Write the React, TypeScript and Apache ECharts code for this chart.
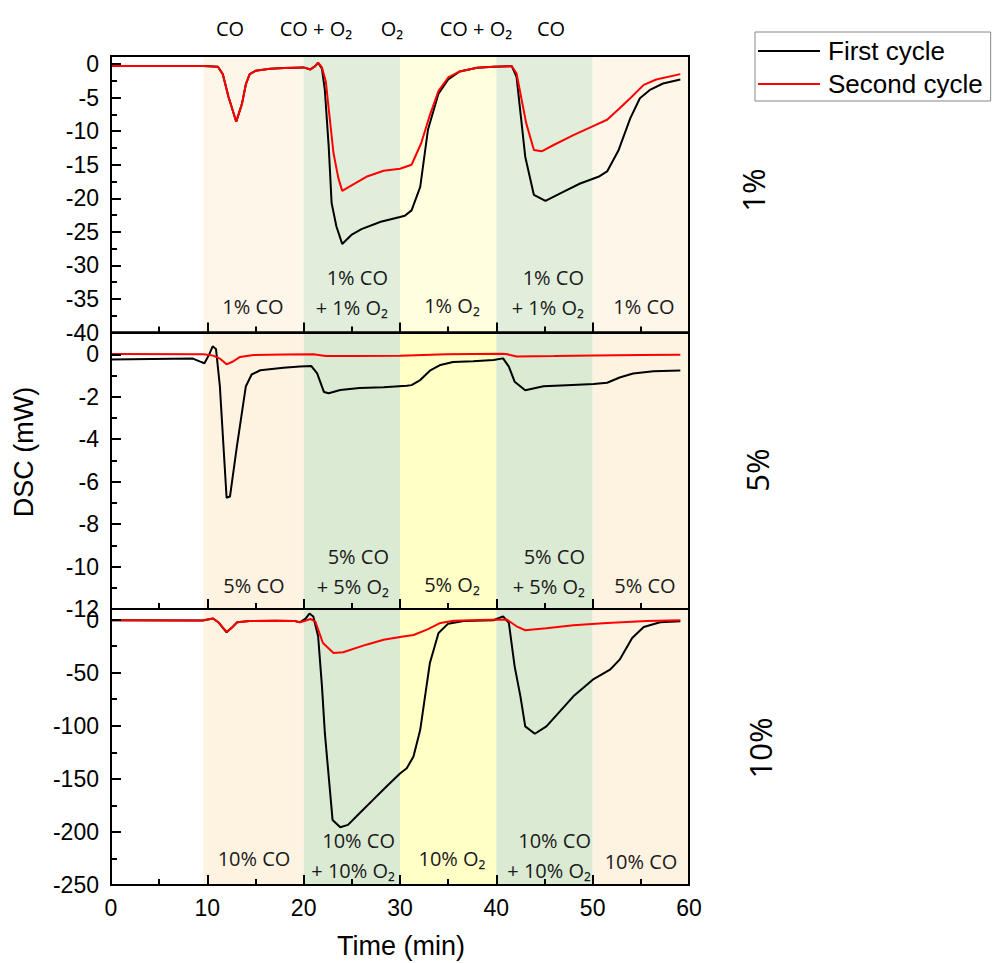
import React, { useEffect, useRef } from "react";
import * as echarts from "echarts";

// ---------- DATA ----------
const xTicks = [0, 10, 20, 30, 40, 50, 60];
const panelNames = ["1%", "5%", "10%"];
const topLabels = ["CO", "CO + O₂", "O₂", "CO + O₂", "CO"];
const bandRanges: [number, number][] = [[9.6, 20], [20, 30], [30, 40], [40, 50], [50, 60]];
const bandGas = ["CO", "MIX", "O2", "MIX", "CO"];
const regionLabels1 = ["1% CO", "1% CO\n+ 1% O₂", "1% O₂", "1% CO\n+ 1% O₂", "1% CO"];
const regionLabels5 = ["5% CO", "5% CO\n+ 5% O₂", "5% O₂", "5% CO\n+ 5% O₂", "5% CO"];
const regionLabels10 = ["10% CO", "10% CO\n+ 10% O₂", "10% O₂", "10% CO\n+ 10% O₂", "10% CO"];
const yMin = [-40, -12, -250];
const yMax = [1.2, 1.03, 10];
const yInterval = [5, 2, 50];

// 1% panel
const first1: [number, number][] = [
  [0, -0.3], [9.6, -0.3], [11.1, -0.4], [11.6, -1.5], [12.2, -4.9], [13.0, -8.6], [13.6, -5.9], [14.0, -3.0],
  [14.4, -1.5], [15.0, -1.0], [16.5, -0.7], [18, -0.6], [20.0, -0.5], [20.7, -0.8], [21.2, -0.3], [21.5, 0.2],
  [21.9, -0.7], [22.2, -3.9], [22.6, -12.3], [22.9, -20.7], [23.4, -24.2], [24.0, -26.8], [25.0, -25.4],
  [26.0, -24.6], [28.0, -23.5], [30.0, -22.8], [30.5, -22.6], [31.2, -21.8], [32.1, -18.3], [32.9, -9.8],
  [34.0, -4.4], [35.0, -2.3], [36.2, -1.1], [38.0, -0.55], [39.7, -0.4], [41.6, -0.3], [42.1, -1.9],
  [43.0, -13.8], [43.9, -19.5], [45.1, -20.4], [47.0, -19.0], [48.7, -17.8], [50.6, -16.8], [51.5, -16.0],
  [52.7, -12.8], [53.9, -8.1], [54.9, -5.1], [56.0, -3.8], [57.3, -2.9], [59.1, -2.3],
];
const second1: [number, number][] = [
  [0, -0.3], [9.6, -0.3], [11.1, -0.4], [11.6, -1.5], [12.2, -4.9], [13.0, -8.6], [13.6, -5.9], [14.0, -3.0],
  [14.4, -1.5], [15.0, -1.0], [16.5, -0.7], [18, -0.6], [20.0, -0.5], [20.7, -0.8], [21.2, -0.3], [21.5, 0.2],
  [21.9, -0.5], [22.3, -2.6], [22.7, -8], [23.1, -13.3], [23.6, -17], [24.0, -18.9], [25.2, -17.9],
  [26.5, -16.8], [28.3, -15.9], [30.0, -15.6], [31.2, -15.0], [32.2, -11.8], [33.1, -7.6], [34.0, -4.0],
  [35.0, -2.0], [36.2, -1.1], [38.0, -0.55], [39.7, -0.4], [41.6, -0.3], [42.1, -1.4], [43.1, -8.8],
  [43.9, -12.8], [44.7, -13.0], [45.9, -12.1], [48.0, -10.6], [50.1, -9.2], [51.5, -8.3], [52.8, -6.6],
  [53.9, -5.1], [55.3, -3.1], [56.6, -2.3], [59.1, -1.5],
];

// 5% panel
const first5: [number, number][] = [
  [0, -0.24], [8.5, -0.2], [9.2, -0.33], [9.7, -0.42], [10.2, 0.0], [10.55, 0.38], [10.9, 0.25], [11.3, -1.5],
  [12.0, -6.76], [12.35, -6.7], [13.05, -4.4], [14.0, -1.5], [14.6, -0.95], [15.5, -0.75], [17.9, -0.63],
  [19.6, -0.57], [20.8, -0.55], [21.4, -0.9], [22.1, -1.77], [22.6, -1.83], [23.8, -1.68], [25.8, -1.58],
  [28.3, -1.55], [30.7, -1.48], [31.2, -1.45], [32.1, -1.21], [33.1, -0.77], [34.2, -0.5], [35.5, -0.36],
  [37.6, -0.33], [39.7, -0.27], [40.7, -0.19], [41.3, -0.58], [41.9, -1.29], [43.0, -1.69], [44.9, -1.5],
  [47.3, -1.45], [50.1, -1.4], [51.5, -1.34], [52.8, -1.09], [54.2, -0.9], [56.3, -0.8], [59.1, -0.76],
];
const second5: [number, number][] = [
  [0, 0.02], [9.6, 0.0], [10.6, -0.06], [11.3, -0.2], [12.0, -0.47], [12.6, -0.35], [13.4, -0.12],
  [14.8, -0.03], [18, -0.01], [21.0, 0.0], [22.3, -0.08], [25, -0.08], [30, -0.06], [34.8, 0.0], [40.4, 0.03],
  [41.0, 0.02], [42.1, -0.1], [46, -0.08], [50.1, -0.05], [55, -0.03], [59.1, -0.02],
];

// 10% panel
const first10: [number, number][] = [
  [0, -0.5], [9.5, -0.8], [10.6, 1], [11.2, -3], [12.0, -12], [12.5, -8], [13.1, -2.5], [14.4, -1.3], [17, -1],
  [19.0, -1.2], [19.6, -2.5], [20.2, 1], [20.6, 5.7], [21.0, 3], [21.5, -15.7], [21.9, -62.9], [22.2, -107],
  [22.6, -147.8], [23.0, -188.7], [23.8, -195.6], [24.6, -193.4], [25.8, -182.4], [27.2, -169.8],
  [28.6, -157.2], [30.0, -145], [30.7, -140], [31.4, -129], [32.1, -103.8], [32.6, -72.3], [33.1, -40.9],
  [34.0, -12.6], [35.0, -3.8], [36.6, -1.3], [39.7, -0.6], [40.7, 3.1], [41.3, -3.1], [41.9, -44],
  [42.5, -72.3], [43.0, -100.6], [44.0, -107.5], [45.2, -100.6], [46.6, -86.5], [48.0, -72.3], [50.1, -56],
  [51.8, -47.2], [52.8, -37.7], [54.1, -17.3], [55.3, -6.9], [57.0, -2.5], [59.1, -1.6],
];
const second10: [number, number][] = [
  [0, -0.5], [9.5, -0.8], [10.6, 1], [11.2, -3], [12.0, -11.6], [12.5, -8], [13.1, -2.5], [14.4, -1.3], [17, -1],
  [19.0, -1.2], [19.6, -2.5], [20.2, -1], [20.7, 0.6], [21.2, -1.6], [22.0, -22], [23.1, -31.4], [24.1, -30.8],
  [26.5, -23.6], [28.3, -18.9], [30, -16.4], [31.4, -14.5], [32.8, -9.4], [34.2, -3.1], [35.6, -1.0],
  [38.3, -0.3], [41.1, 0], [42.1, -6.3], [43.0, -10], [45.2, -8.2], [48.0, -5.3], [51.5, -3.1], [55.6, -1.3],
  [59.1, -0.6],
];

const firstSeries = [first1, first5, first10];
const secondSeries = [second1, second5, second10];
const regionLabels = [regionLabels1, regionLabels5, regionLabels10];

// ---------- LAYOUT / STYLE ----------
const GRID_LEFT = 111;
const GRID_WIDTH = 578;
const gridTops = [56, 332.5, 609];
const gridHeights = [276.5, 276.5, 276];
const bandColors = [
  { CO: "#fef6e8", MIX: "#e1eedb", O2: "#ffffe0" },
  { CO: "#fdf3e0", MIX: "#dbead3", O2: "#ffffc6" },
  { CO: "#fdf3e0", MIX: "#dbead3", O2: "#ffffc6" },
];
const regionPos = [
  [[253, 306, "center"], [388, 292, "right"], [452, 305, "center"], [584, 292, "right"], [644, 306, "center"]],
  [[254, 585, "center"], [389, 571, "right"], [452, 584, "center"], [585, 571, "right"], [645, 585, "center"]],
  [[254, 858, "center"], [395, 855, "right"], [452, 858, "center"], [591, 855, "right"], [641, 861, "center"]],
];
const topLabelPos = [230, 316, 392, 476, 551];
const panelNamePos = [[753, 190], [757, 470], [760, 748]];

const ARIAL = "Liberation Sans, Arial, sans-serif";
const CAL = "Open Sans, Noto Sans, sans-serif";

export default function App() {
  const ref = useRef<HTMLDivElement>(null);
  useEffect(() => {
    if (!ref.current) return;
    const chart = echarts.init(ref.current, undefined, { renderer: "svg" });

    const grids = [0, 1, 2].map((i) => ({
      left: GRID_LEFT,
      top: gridTops[i],
      width: GRID_WIDTH,
      height: gridHeights[i],
      show: true,
      borderColor: "#000",
      borderWidth: 2,
      backgroundColor: "transparent",
      z: 10,
    }));

    const xAxes = [0, 1, 2].map((i) => ({
      type: "value",
      gridIndex: i,
      min: xTicks[0],
      max: xTicks[xTicks.length - 1],
      interval: 10,
      z: 10,
      axisLine: { show: true, onZero: false, lineStyle: { color: "#000", width: 2 } },
      axisTick: { show: true, inside: true, length: 10, lineStyle: { color: "#000", width: 2 } },
      minorTick: { show: true, splitNumber: 2, length: 6, lineStyle: { color: "#000", width: 2 } },
      splitLine: { show: false },
      minorSplitLine: { show: false },
      axisLabel: {
        show: i === 2,
        fontSize: 23,
        fontFamily: ARIAL,
        color: "#000",
        margin: 11,
      },
    }));

    const yAxes = [0, 1, 2].map((i) => ({
      type: "value",
      gridIndex: i,
      min: yMin[i],
      max: yMax[i],
      interval: yInterval[i],
      z: 10,
      axisLine: { show: true, onZero: false, lineStyle: { color: "#000", width: 2 } },
      axisTick: { show: true, inside: true, length: 10, lineStyle: { color: "#000", width: 2 } },
      minorTick: { show: true, splitNumber: 2, length: 6, lineStyle: { color: "#000", width: 2 } },
      splitLine: { show: false },
      minorSplitLine: { show: false },
      axisLabel: {
        fontSize: 23,
        fontFamily: ARIAL,
        color: "#000",
        margin: 12,
        formatter: (v: number) => {
          const r = v / yInterval[i];
          return Math.abs(r - Math.round(r)) < 1e-6 ? String(Math.round(v)) : "";
        },
      },
    }));

    const series: any[] = [];
    [0, 1, 2].forEach((i) => {
      series.push({
        name: "First cycle",
        type: "line",
        xAxisIndex: i,
        yAxisIndex: i,
        data: firstSeries[i],
        symbol: "none",
        color: "#000000",
        lineStyle: { color: "#000000", width: 2 },
        z: 3,
        markArea: {
          silent: true,
          z: 1,
          data: bandRanges.map((r, k) => [
            { xAxis: r[0], itemStyle: { color: (bandColors[i] as any)[bandGas[k]] } },
            { xAxis: r[1] },
          ]),
        },
      });
      series.push({
        name: "Second cycle",
        type: "line",
        xAxisIndex: i,
        yAxisIndex: i,
        data: secondSeries[i],
        symbol: "none",
        color: "#ff0000",
        lineStyle: { color: "#ff0000", width: 2 },
        z: 4,
      });
    });

    const graphics: any[] = [];
    topLabels.forEach((t, k) => {
      graphics.push({
        type: "text",
        x: topLabelPos[k],
        y: 28,
        style: { text: t, font: `20px ${CAL}`, fill: "#000", align: "center", verticalAlign: "middle" },
      });
    });
    regionLabels.forEach((labels, i) => {
      labels.forEach((t, k) => {
        const p = regionPos[i][k] as any[];
        graphics.push({
          type: "text",
          x: p[0],
          y: p[1],
          z: 20,
          style: {
            text: t,
            font: `20px ${CAL}`,
            fill: "#1a1a1a",
            align: p[2],
            verticalAlign: "middle",
            lineHeight: 30,
          },
        });
      });
    });
    panelNames.forEach((t, i) => {
      graphics.push({
        type: "text",
        x: panelNamePos[i][0],
        y: panelNamePos[i][1],
        rotation: Math.PI / 2,
        style: { text: t, font: `31px ${CAL}`, fill: "#000", align: "center", verticalAlign: "middle" },
      });
    });
    graphics.push({
      type: "text",
      x: 24,
      y: 452,
      rotation: Math.PI / 2,
      style: { text: "DSC (mW)", font: `27px ${ARIAL}`, fill: "#000", align: "center", verticalAlign: "middle" },
    });
    graphics.push({
      type: "text",
      x: 401,
      y: 946,
      style: { text: "Time (min)", font: `27px ${ARIAL}`, fill: "#000", align: "center", verticalAlign: "middle" },
    });

    chart.setOption({
      animation: false,
      backgroundColor: "#ffffff",
      grid: grids,
      xAxis: xAxes,
      yAxis: yAxes,
      series,
      legend: {
        data: ["First cycle", "Second cycle"],
        orient: "vertical",
        left: 755,
        top: 32,
        icon: "rect",
        itemWidth: 62,
        itemHeight: 2,
        itemGap: 7,
        padding: [6, 8, 4, 3],
        borderColor: "#888",
        borderWidth: 1,
        selectedMode: false,
        textStyle: { fontSize: 26, fontFamily: ARIAL, color: "#000", padding: [0, 0, 0, 3] },
      },
      graphic: graphics,
    });
    return () => chart.dispose();
  }, []);
  return (
    <div
      ref={ref}
      style={{ position: "fixed", left: 0, top: 0, width: 995, height: 963, background: "#fff" }}
    />
  );
}
